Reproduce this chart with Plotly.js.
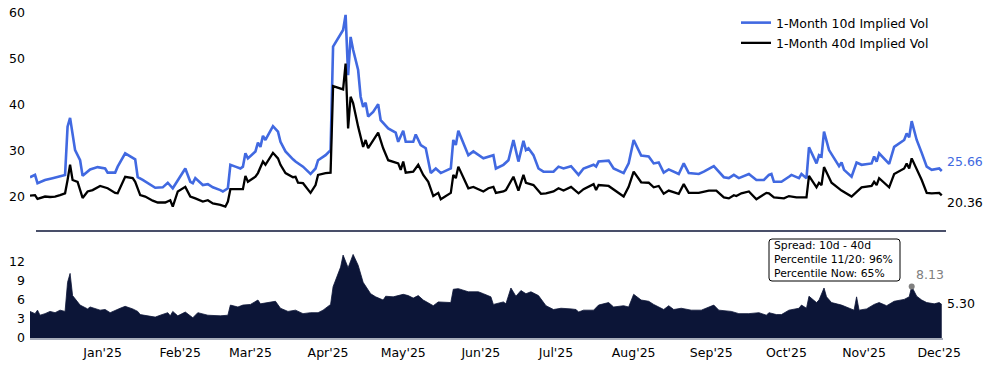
<!DOCTYPE html>
<html>
<head>
<meta charset="utf-8">
<script src="https://cdn.plot.ly/plotly-3.0.1.min.js"></script>
<style>html,body{margin:0;padding:0;background:#fff;}#chart{width:986px;height:365px;}</style>
</head>
<body>
<div id="chart"></div>
<script>
// ---------- DATA ----------
const dates10 = ['2024-12-03','2024-12-05','2024-12-06','2024-12-09','2024-12-12','2024-12-15','2024-12-17','2024-12-18','2024-12-19','2024-12-21','2024-12-23','2024-12-24','2024-12-27','2024-12-30','2025-01-02','2025-01-03','2025-01-06','2025-01-07','2025-01-10','2025-01-14','2025-01-15','2025-01-17','2025-01-22','2025-01-25','2025-01-27','2025-01-29','2025-02-01','2025-02-03','2025-02-05','2025-02-06','2025-02-07','2025-02-10','2025-02-12','2025-02-14','2025-02-17','2025-02-18','2025-02-20','2025-02-21','2025-02-23','2025-02-25','2025-02-26','2025-02-27','2025-02-28','2025-03-03','2025-03-04','2025-03-05','2025-03-06','2025-03-07','2025-03-10','2025-03-12','2025-03-13','2025-03-15','2025-03-18','2025-03-19','2025-03-22','2025-03-25','2025-03-27','2025-03-28','2025-03-31','2025-04-02','2025-04-03','2025-04-07','2025-04-08','2025-04-09','2025-04-10','2025-04-11','2025-04-13','2025-04-14','2025-04-15','2025-04-16','2025-04-17','2025-04-19','2025-04-21','2025-04-22','2025-04-25','2025-04-28','2025-04-29','2025-05-01','2025-05-02','2025-05-05','2025-05-06','2025-05-08','2025-05-10','2025-05-12','2025-05-14','2025-05-16','2025-05-20','2025-05-21','2025-05-22','2025-05-23','2025-05-27','2025-05-29','2025-06-02','2025-06-04','2025-06-06','2025-06-07','2025-06-10','2025-06-12','2025-06-14','2025-06-16','2025-06-18','2025-06-19','2025-06-20','2025-06-22','2025-06-24','2025-06-26','2025-06-30','2025-07-02','2025-07-04','2025-07-07','2025-07-10','2025-07-12','2025-07-16','2025-07-17','2025-07-18','2025-07-22','2025-07-24','2025-07-28','2025-07-30','2025-08-01','2025-08-04','2025-08-07','2025-08-09','2025-08-11','2025-08-13','2025-08-15','2025-08-19','2025-08-21','2025-08-23','2025-08-27','2025-08-29','2025-09-02','2025-09-06','2025-09-08','2025-09-10','2025-09-12','2025-09-16','2025-09-19','2025-09-22','2025-09-24','2025-09-25','2025-09-26','2025-09-29','2025-10-02','2025-10-03','2025-10-06','2025-10-07','2025-10-09','2025-10-10','2025-10-13','2025-10-14','2025-10-15','2025-10-16','2025-10-18','2025-10-22','2025-10-23','2025-10-24','2025-10-27','2025-10-29','2025-10-31','2025-11-04','2025-11-05','2025-11-06','2025-11-07','2025-11-11','2025-11-13','2025-11-17','2025-11-18','2025-11-19','2025-11-20','2025-11-22','2025-11-24','2025-11-26','2025-11-28','2025-12-01','2025-12-02'];
const vol10 = [24.3,24.8,23.0,23.7,24.1,24.6,24.8,35.3,37.2,30.2,28.0,24.6,26.0,26.5,26.2,25.3,25.3,26.6,29.5,28.2,24.3,23.7,22.0,22.1,23.1,21.9,24.6,26.2,23.3,23.0,24.1,22.6,22.8,22.1,21.5,21.2,21.9,27.0,26.6,26.2,26.6,29.5,28.4,29.9,31.8,30.9,33.3,32.4,35.4,34.2,32.0,29.9,28.2,27.7,26.6,25.0,26.2,28.0,29.1,30.2,52.7,56.3,59.6,46.5,54.8,52.0,47.6,41.8,39.6,40.5,37.5,38.5,40.2,36.7,34.9,34.0,32.0,34.4,32.0,32.0,33.6,31.3,30.6,25.2,26.2,25.2,26.2,32.4,31.3,34.4,29.1,29.9,28.4,28.8,29.1,26.2,27.0,28.0,32.4,27.7,32.2,30.2,30.6,29.1,26.2,25.5,25.5,26.6,26.2,26.7,24.8,26.2,27.0,26.6,27.7,27.9,26.2,25.2,27.3,32.4,29.0,28.8,27.3,27.5,25.3,26.0,25.0,27.3,25.2,25.0,25.5,26.7,24.3,24.1,24.8,24.1,25.0,23.7,23.7,24.8,25.0,23.3,23.3,24.4,24.8,24.1,25.0,24.1,30.8,27.3,29.1,28.8,34.2,30.2,26.7,27.5,25.9,24.4,27.5,27.0,27.3,28.8,27.7,29.5,27.2,30.9,32.4,33.8,33.0,36.5,32.4,29.6,26.6,25.9,26.2,25.66];

const dates40 = ['2024-12-03','2024-12-05','2024-12-06','2024-12-09','2024-12-11','2024-12-13','2024-12-15','2024-12-17','2024-12-18','2024-12-19','2024-12-20','2024-12-22','2024-12-24','2024-12-26','2024-12-28','2024-12-31','2025-01-03','2025-01-06','2025-01-07','2025-01-09','2025-01-10','2025-01-13','2025-01-14','2025-01-16','2025-01-18','2025-01-21','2025-01-23','2025-01-26','2025-01-28','2025-01-29','2025-01-31','2025-02-03','2025-02-05','2025-02-07','2025-02-10','2025-02-12','2025-02-14','2025-02-17','2025-02-19','2025-02-20','2025-02-21','2025-02-26','2025-02-27','2025-02-28','2025-03-03','2025-03-04','2025-03-06','2025-03-07','2025-03-10','2025-03-12','2025-03-13','2025-03-15','2025-03-18','2025-03-19','2025-03-20','2025-03-22','2025-03-25','2025-03-27','2025-03-28','2025-03-31','2025-04-02','2025-04-03','2025-04-07','2025-04-08','2025-04-09','2025-04-10','2025-04-11','2025-04-13','2025-04-15','2025-04-16','2025-04-17','2025-04-21','2025-04-23','2025-04-25','2025-04-29','2025-04-30','2025-05-01','2025-05-02','2025-05-05','2025-05-07','2025-05-09','2025-05-11','2025-05-13','2025-05-15','2025-05-16','2025-05-20','2025-05-21','2025-05-22','2025-05-23','2025-05-27','2025-05-29','2025-06-02','2025-06-04','2025-06-06','2025-06-07','2025-06-10','2025-06-11','2025-06-14','2025-06-16','2025-06-18','2025-06-19','2025-06-22','2025-06-25','2025-06-27','2025-06-30','2025-07-02','2025-07-04','2025-07-07','2025-07-10','2025-07-12','2025-07-16','2025-07-17','2025-07-18','2025-07-22','2025-07-25','2025-07-28','2025-07-30','2025-08-01','2025-08-04','2025-08-07','2025-08-09','2025-08-11','2025-08-13','2025-08-15','2025-08-19','2025-08-21','2025-08-23','2025-08-27','2025-08-31','2025-09-03','2025-09-06','2025-09-08','2025-09-10','2025-09-11','2025-09-13','2025-09-16','2025-09-19','2025-09-23','2025-09-24','2025-09-26','2025-09-30','2025-10-02','2025-10-05','2025-10-09','2025-10-10','2025-10-13','2025-10-14','2025-10-15','2025-10-16','2025-10-19','2025-10-23','2025-10-27','2025-10-31','2025-11-04','2025-11-05','2025-11-06','2025-11-07','2025-11-11','2025-11-13','2025-11-17','2025-11-18','2025-11-19','2025-11-20','2025-11-22','2025-11-24','2025-11-26','2025-11-28','2025-12-01','2025-12-02'];
const vol40 = [20.3,20.4,19.6,20.1,20.0,20.1,20.4,20.8,23.7,27.0,23.7,23.3,19.8,21.2,21.5,22.4,21.9,20.9,20.8,23.3,24.4,24.1,23.3,20.4,20.1,19.2,18.8,18.8,19.3,17.9,21.2,22.2,20.1,19.7,19.0,19.3,18.6,18.3,17.9,19.0,21.7,21.7,24.6,23.3,24.4,25.2,27.7,27.0,29.6,28.4,27.0,25.2,24.3,24.4,23.1,23.0,20.9,22.6,24.8,25.2,25.3,44.1,43.4,49.0,34.9,41.8,40.4,35.3,30.9,32.4,30.6,34.0,30.6,28.0,27.3,25.9,27.7,25.3,25.5,27.0,24.8,23.3,20.2,20.9,19.5,20.9,24.8,24.1,26.6,21.9,22.2,21.2,21.9,22.2,20.9,21.2,21.5,24.4,21.4,24.8,23.1,22.6,20.7,20.8,21.2,21.9,21.4,22.2,20.8,21.7,22.8,21.5,22.6,22.4,21.2,20.1,22.2,25.5,23.2,23.1,22.1,22.4,20.7,21.4,20.7,22.8,20.9,20.9,21.4,21.4,19.9,19.7,20.4,20.2,20.8,21.2,19.5,20.9,20.8,19.9,19.7,20.2,19.9,19.9,24.6,22.1,23.1,22.6,26.5,23.1,21.4,20.1,22.1,22.4,23.3,22.6,24.1,22.1,25.0,26.2,27.3,26.2,28.4,26.2,23.7,20.9,20.8,20.9,20.36];

const datesSpread = ['2024-12-03','2024-12-05','2024-12-06','2024-12-07','2024-12-09','2024-12-11','2024-12-13','2024-12-15','2024-12-17','2024-12-18','2024-12-19','2024-12-20','2024-12-23','2024-12-26','2024-12-27','2024-12-31','2025-01-02','2025-01-04','2025-01-08','2025-01-10','2025-01-13','2025-01-15','2025-01-16','2025-01-22','2025-01-24','2025-01-27','2025-01-28','2025-01-29','2025-01-31','2025-02-03','2025-02-06','2025-02-08','2025-02-12','2025-02-15','2025-02-17','2025-02-20','2025-02-21','2025-02-24','2025-02-26','2025-03-01','2025-03-04','2025-03-05','2025-03-08','2025-03-11','2025-03-13','2025-03-16','2025-03-19','2025-03-22','2025-03-25','2025-03-28','2025-03-30','2025-04-02','2025-04-03','2025-04-04','2025-04-05','2025-04-06','2025-04-07','2025-04-09','2025-04-11','2025-04-13','2025-04-15','2025-04-18','2025-04-20','2025-04-23','2025-04-24','2025-04-27','2025-05-01','2025-05-03','2025-05-05','2025-05-07','2025-05-09','2025-05-13','2025-05-15','2025-05-19','2025-05-20','2025-05-21','2025-05-23','2025-05-27','2025-05-31','2025-06-02','2025-06-05','2025-06-06','2025-06-10','2025-06-11','2025-06-12','2025-06-13','2025-06-15','2025-06-17','2025-06-19','2025-06-21','2025-06-24','2025-06-27','2025-06-30','2025-07-03','2025-07-07','2025-07-09','2025-07-10','2025-07-12','2025-07-16','2025-07-18','2025-07-22','2025-07-24','2025-07-28','2025-07-30','2025-08-01','2025-08-04','2025-08-07','2025-08-09','2025-08-13','2025-08-15','2025-08-17','2025-08-20','2025-08-24','2025-08-28','2025-09-02','2025-09-04','2025-09-09','2025-09-12','2025-09-16','2025-09-20','2025-09-23','2025-09-24','2025-09-27','2025-09-29','2025-10-02','2025-10-06','2025-10-07','2025-10-09','2025-10-10','2025-10-13','2025-10-14','2025-10-16','2025-10-17','2025-10-19','2025-10-23','2025-10-28','2025-10-29','2025-10-30','2025-11-02','2025-11-05','2025-11-07','2025-11-10','2025-11-13','2025-11-17','2025-11-19','2025-11-20','2025-11-22','2025-11-24','2025-11-26','2025-11-29','2025-12-01','2025-12-02'];
const spread = [4.2,3.85,4.4,3.6,3.85,4.2,4.0,4.4,4.2,8.8,10.2,6.7,5.2,4.6,4.9,4.4,4.5,4.0,4.7,5.0,4.6,4.2,3.7,3.3,3.6,4.0,3.5,4.2,3.5,4.1,3.2,4.0,3.6,3.5,3.5,3.6,5.2,4.9,5.2,5.3,6.0,5.4,5.6,5.8,4.7,4.2,4.4,3.85,4.0,4.0,4.4,5.3,8.1,9.1,9.9,11.2,13.1,11.1,13.2,11.5,8.8,7.0,6.5,6.0,6.6,6.5,6.9,6.7,6.3,6.7,6.0,5.1,5.7,5.7,5.6,7.7,7.8,7.3,7.3,7.0,6.5,5.3,5.7,5.4,6.6,7.9,6.6,7.5,7.0,7.3,6.7,5.1,4.5,4.7,4.6,4.5,4.1,4.4,4.4,5.2,5.6,4.9,5.1,4.9,6.9,6.0,5.8,5.3,4.5,5.1,4.5,4.7,4.4,4.4,5.2,4.4,4.2,3.85,3.85,4.0,3.6,4.0,3.7,3.7,4.4,4.7,5.2,4.7,6.6,5.6,6.0,7.9,6.5,5.6,5.2,4.4,6.5,4.4,4.6,5.3,5.6,5.1,5.8,6.1,6.5,8.13,6.6,6.0,5.6,5.4,5.6,5.30];

const seriesNames = ['1-Month 10d Implied Vol', '1-Month 40d Implied Vol'];
const markDate = '2025-11-20';
const boxLines = ['Spread: 10d - 40d', 'Percentile 11/20: 96%', 'Percentile Now: 65%'];

// ---------- LAYOUT HELPERS (pixel -> paper) ----------
const W = 986, H = 365, ML = 30, MR = 43, MT = 5, MB = 27;
const PW = W - ML - MR, PH = H - MT - MB;
const px2x = p => (p - ML) / PW;
const py2y = p => (H - MB - p) / PH;

const FONT = 'DejaVu Sans';
const BLUE = '#4169E1';
const NAVY = '#0c1537';

const markIdx = datesSpread.indexOf(markDate);

const traces = [
  {x: dates10, y: vol10, type: 'scatter', mode: 'lines', name: seriesNames[0],
   line: {color: BLUE, width: 2.6}, xaxis: 'x', yaxis: 'y', legendgroup: 'a'},
  {x: dates40, y: vol40, type: 'scatter', mode: 'lines', name: seriesNames[1],
   line: {color: '#000000', width: 2.3}, xaxis: 'x', yaxis: 'y', legendgroup: 'b'},
  {x: datesSpread, y: spread, type: 'scatter', mode: 'lines', fill: 'tozeroy',
   fillcolor: NAVY, line: {color: NAVY, width: 0.8}, xaxis: 'x2', yaxis: 'y2', showlegend: false},
  {x: [datesSpread[markIdx]], y: [spread[markIdx]], type: 'scatter', mode: 'markers',
   marker: {color: '#808080', size: 6}, xaxis: 'x2', yaxis: 'y2', showlegend: false}
];

const xRange = ['2024-12-03', '2025-12-02 12:00'];

// rounded box path
const bx0 = px2x(769), bx1 = px2x(900), by0 = py2y(281), by1 = py2y(239);
const rx = 3 / PW, ry = 3 / PH;
const boxPath = `M ${bx0+rx} ${by0} L ${bx1-rx} ${by0} Q ${bx1} ${by0} ${bx1} ${by0+ry} L ${bx1} ${by1-ry} Q ${bx1} ${by1} ${bx1-rx} ${by1} L ${bx0+rx} ${by1} Q ${bx0} ${by1} ${bx0} ${by1-ry} L ${bx0} ${by0+ry} Q ${bx0} ${by0} ${bx0+rx} ${by0} Z`;

const annotations = [
  {xref: 'paper', yref: 'y', x: px2x(945), y: vol10[vol10.length-1], xanchor: 'left', yanchor: 'middle',
   yshift: 9, text: vol10[vol10.length-1].toFixed(2), showarrow: false, font: {family: FONT, size: 12.5, color: BLUE}},
  {xref: 'paper', yref: 'y', x: px2x(945), y: vol40[vol40.length-1], xanchor: 'left', yanchor: 'middle',
   yshift: -7, text: vol40[vol40.length-1].toFixed(2), showarrow: false, font: {family: FONT, size: 12.5, color: '#000'}},
  {xref: 'paper', yref: 'y2', x: px2x(945), y: spread[spread.length-1], xanchor: 'left', yanchor: 'middle',
   yshift: 1, text: spread[spread.length-1].toFixed(2), showarrow: false, font: {family: FONT, size: 12.5, color: '#000'}},
  {xref: 'x2', yref: 'y2', x: datesSpread[markIdx], y: spread[markIdx], xanchor: 'center', yanchor: 'middle',
   xshift: 18, yshift: 12, text: spread[markIdx].toFixed(2), showarrow: false, font: {family: FONT, size: 12.5, color: '#808080'}},
  {xref: 'paper', yref: 'paper', x: px2x(772), y: py2y(259.5), xanchor: 'left', yanchor: 'middle', align: 'left',
   text: boxLines.join('<br>'), showarrow: false, font: {family: FONT, size: 10.8, color: '#000'}}
];

const layout = {
  width: W, height: H,
  margin: {l: ML, r: MR, t: MT, b: MB},
  paper_bgcolor: '#fff', plot_bgcolor: 'rgba(0,0,0,0)',
  font: {family: FONT, size: 12.5, color: '#000'},
  showlegend: true,
  legend: {x: px2x(736), y: py2y(8), xanchor: 'left', yanchor: 'top',
           bgcolor: 'rgba(0,0,0,0)', font: {family: FONT, size: 12.5, color: '#000'},
           tracegroupgap: 1},
  xaxis: {domain: [0, 1], anchor: 'y', type: 'date', range: xRange, showticklabels: false,
          showgrid: false, zeroline: false, showline: false, ticks: ''},
  yaxis: {domain: [py2y(222), 1], range: [14.565, 61.739], tickvals: [20, 30, 40, 50, 60],
          showgrid: false, zeroline: false, showline: false, ticks: '', ticklabelstandoff: 4,
          tickfont: {family: FONT, size: 12.5, color: '#000'}},
  xaxis2: {domain: [0, 1], anchor: 'y2', type: 'date', range: xRange, dtick: 'M1', tick0: '2025-01-01',
           tickformat: "%b'%y", showgrid: false, zeroline: false, showline: true, linecolor: '#a8adba',
           linewidth: 1.5, ticks: '', ticklabelstandoff: 2, tickfont: {family: FONT, size: 12.5, color: '#000'}},
  yaxis2: {domain: [0, py2y(245)], range: [0, (H - MB - 245) / 6.33], tickvals: [0, 3, 6, 9, 12],
           showgrid: false, zeroline: false, showline: false, ticks: '', ticklabelstandoff: 4,
           tickfont: {family: FONT, size: 12.5, color: '#000'}},
  shapes: [
    {type: 'line', xref: 'paper', yref: 'paper', x0: px2x(36), x1: px2x(946), y0: py2y(231), y1: py2y(231),
     line: {color: NAVY, width: 1.5}},
    {type: 'path', xref: 'paper', yref: 'paper', path: boxPath, fillcolor: '#fff',
     line: {color: '#000', width: 1}, layer: 'above'}
  ],
  annotations: annotations
};

Plotly.newPlot('chart', traces, layout, {staticPlot: true, displayModeBar: false});
</script>
</body>
</html>
